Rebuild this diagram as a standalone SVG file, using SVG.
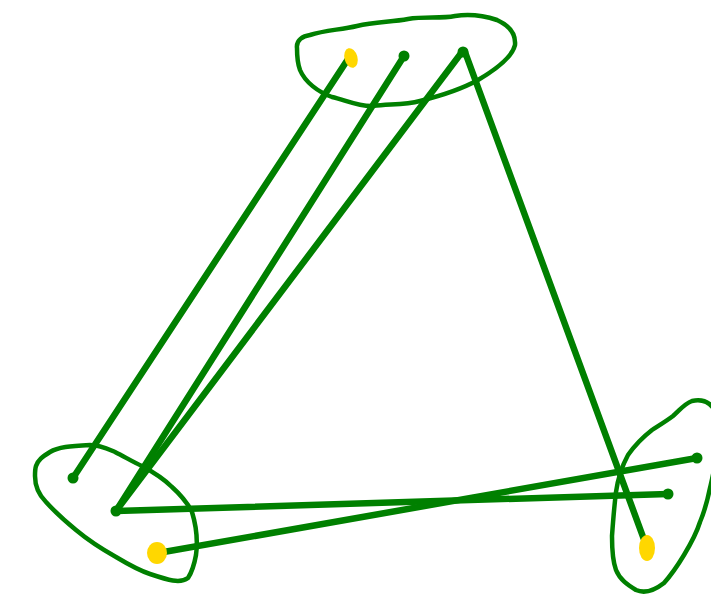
<svg xmlns="http://www.w3.org/2000/svg" width="711" height="598" viewBox="0 0 711 598">
<style>
.hull{fill:none;stroke:#008000;stroke-width:4.5;stroke-linecap:round;stroke-linejoin:round}
.edge{fill:none;stroke:#008000;stroke-width:6.5;stroke-linecap:round}
.end{fill:#008000}
.pin{fill:#FFD700}
</style>
<rect width="711" height="598" fill="#ffffff"/>
<g id="connectors">
<line class="edge" x1="350" y1="56" x2="73" y2="478"/>
<line class="edge" x1="404" y1="56" x2="116" y2="511"/>
<line class="edge" x1="462" y1="52" x2="116" y2="511"/>
<line class="edge" x1="465" y1="52" x2="646" y2="545"/>
<line class="edge" x1="116" y1="511" x2="668" y2="494"/>
<line class="edge" x1="158" y1="553" x2="697" y2="458"/>
</g>
<g id="node-top">
<path class="hull" d="M297,48 C296,40 303,36 310,35 C325,30 340,30 357,26 C375,22 392,22 408,19 C425,16 440,19 455,16 C468,14 482,15 497,20 C508,25 516,33 515,45 C512,58 495,70 478,80 C460,90 440,96 420,101 C405,105 390,104 373,106 C360,107 345,100 332,97 C318,92 305,82 300,70 C297,62 297,55 297,48 Z"/>
<ellipse class="pin" cx="351" cy="58" rx="6.5" ry="10" transform="rotate(-15 351 58)"/>
<circle class="end" cx="404" cy="56" r="5.5"/>
<circle class="end" cx="463" cy="52" r="5.5"/>
</g>
<g id="node-left">
<path class="hull" d="M36,466 C38,460 42,457 50,452 C58,447 70,446 90,445 C100,445 108,449 115,452 C125,457 133,462 142,466 C155,473 164,479 172,487 C182,496 188,504 192,512 C196,525 198,540 196,555 C194,566 192,572 188,578 C180,584 168,580 150,574 C138,570 126,563 116,557 C100,548 88,540 76,530 C65,521 56,513 46,502 C38,494 35,485 35,476 C35,472 35,469 36,466 Z"/>
<circle class="end" cx="73" cy="478" r="5.5"/>
<circle class="end" cx="116" cy="511" r="5.5"/>
<ellipse class="pin" cx="157" cy="553" rx="10" ry="11"/>
</g>
<g id="node-right">
<path class="hull" d="M716,412 C710,401 701,399 692,401 C684,404 680,410 673,416 C665,422 658,426 652,430 C643,437 635,445 628,455 C622,466 618,478 616,492 C614,508 613,522 612,536 C612,550 613,562 616,570 C620,580 628,585 636,590 C645,594 655,590 664,583 C672,574 678,565 684,555 C690,545 696,535 700,522 C705,510 708,498 710,488 C712,480 714,470 716,460"/>
<circle class="end" cx="697" cy="458" r="5.5"/>
<circle class="end" cx="668" cy="494" r="5.5"/>
<ellipse class="pin" cx="647" cy="548" rx="8" ry="13"/>
</g>
</svg>
